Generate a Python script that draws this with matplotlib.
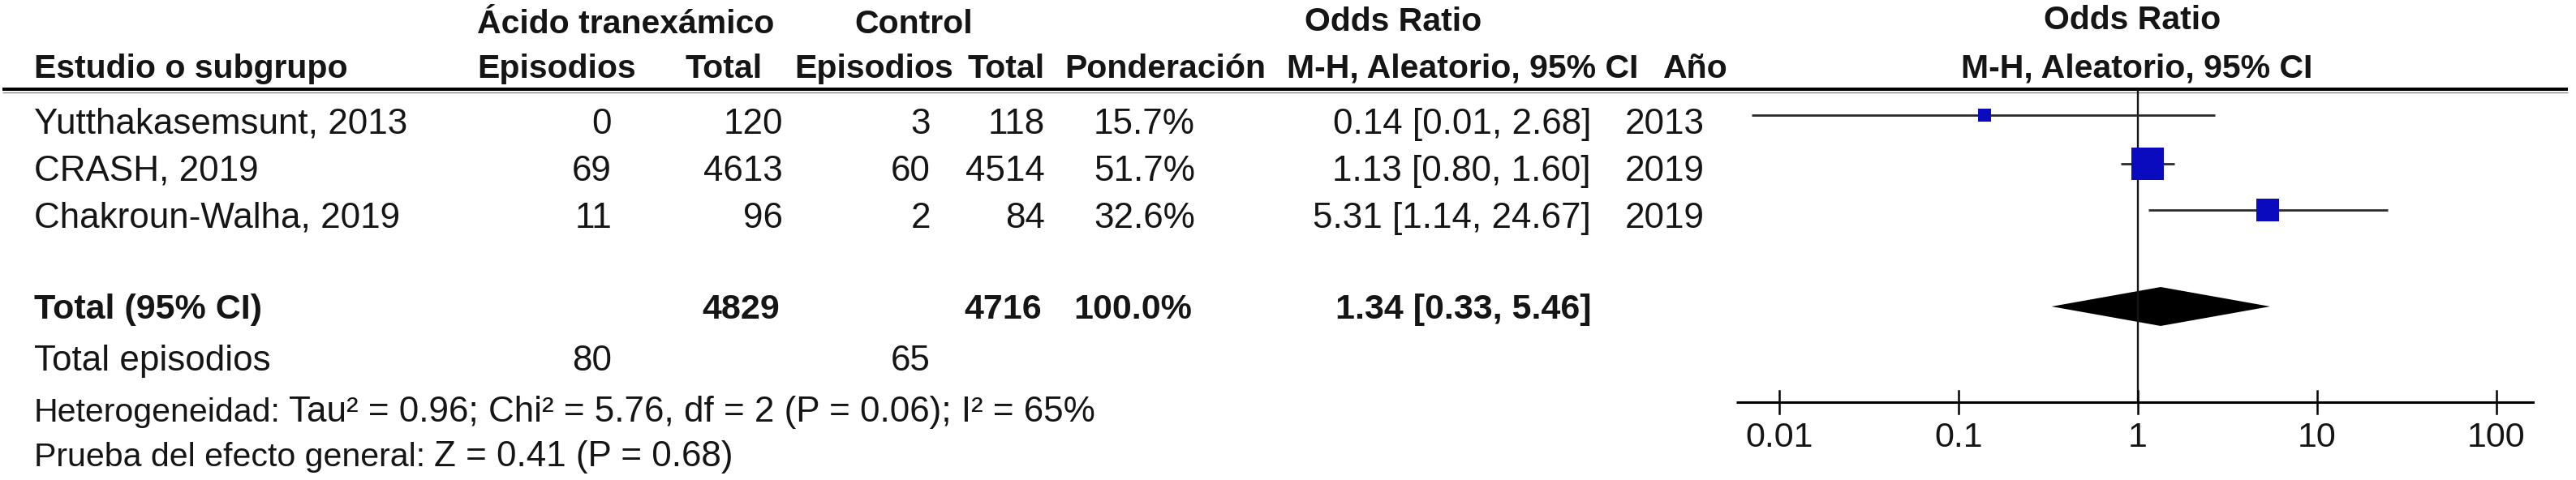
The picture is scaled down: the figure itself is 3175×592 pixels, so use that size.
import matplotlib
matplotlib.use("Agg")
import matplotlib.pyplot as plt

plt.rcParams['font.family'] = ['Liberation Sans', 'DejaVu Sans']

# -----------------
# Data
# -----------------
studies = ["Yutthakasemsunt, 2013", "CRASH, 2019", "Chakroun-Walha, 2019"]
txa_events = [0, 69, 11]
txa_total = [120, 4613, 96]
ctrl_events = [3, 60, 2]
ctrl_total = [118, 4514, 84]
weights = [15.7, 51.7, 32.6]
odds = [0.14, 1.13, 5.31]
ci_low = [0.007, 0.80, 1.14]
ci_high = [2.68, 1.60, 24.67]
years = [2013, 2019, 2019]

pooled_or = 1.34
pooled_low = 0.33
pooled_high = 5.46
heterogeneity = "Tau² = 0.96; Chi² = 5.76, df = 2 (P = 0.06); I² = 65%"
overall_test = "Z = 0.41 (P = 0.68)"

tick_values = [0.01, 0.1, 1, 10, 100]
tick_labels = ["0.01", "0.1", "1", "10", "100"]

# -----------------
# Layout (pixels, figure is 3175 x 592 at dpi 100)
# -----------------
W, H = 3175, 592
row_base = [165, 223, 281]      # text baselines
row_mark = [142, 202, 259]      # centre of CI lines / squares
total_base, total_mark = 393, 378
events_base = 457
het_base, test_base = 520, 575
axis_y = 496

col_txa_ev, col_txa_tot = 754, 965
col_ctl_ev, col_ctl_tot = 1147, 1288
col_weight, col_or, col_year = 1473, 1961, 2003

ink = '#151515'
reg = 31.7
hdr = 29.5
bld = 31

fig = plt.figure(figsize=(W / 100, H / 100), dpi=100)
ax = fig.add_axes([0, 0, 1, 1])
ax.set_xlim(0, W)
ax.set_ylim(H, 0)
ax.axis('off')

# -----------------
# Header
# -----------------
ax.text(588, 41, "Ácido tranexámico", fontsize=hdr, fontweight='bold', color=ink)
ax.text(1126, 41, "Control", fontsize=hdr, fontweight='bold', color=ink, ha='center')
ax.text(1717, 38, "Odds Ratio", fontsize=hdr, fontweight='bold', color=ink, ha='center')
ax.text(2628, 36, "Odds Ratio", fontsize=hdr, fontweight='bold', color=ink, ha='center')

ax.text(42, 96, "Estudio o subgrupo", fontsize=hdr, fontweight='bold', color=ink)
ax.text(588, 96, "Episodios", fontsize=hdr, fontweight='bold', color=ink)
ax.text(940, 96, "Total", fontsize=hdr, fontweight='bold', color=ink, ha='right')
ax.text(1175, 96, "Episodios", fontsize=hdr, fontweight='bold', color=ink, ha='right')
ax.text(1288, 96, "Total", fontsize=hdr, fontweight='bold', color=ink, ha='right')
ax.text(1312, 96, "Ponderación", fontsize=hdr, fontweight='bold', color=ink)
ax.text(1586, 96, "M-H, Aleatorio, 95% CI", fontsize=hdr, fontweight='bold', color=ink)
ax.text(2050, 96, "Año", fontsize=hdr, fontweight='bold', color=ink)
ax.text(2634, 96, "M-H, Aleatorio, 95% CI", fontsize=hdr, fontweight='bold', color=ink, ha='center')

ax.plot([3, 3165], [110, 110], color='black', lw=2.9, solid_capstyle='butt')
ax.plot([3, 3165], [114, 114], color='#8a8a8a', lw=1.0, solid_capstyle='butt')

# -----------------
# Study rows
# -----------------
for i, name in enumerate(studies):
    y = row_base[i]
    ax.text(42, y, name, fontsize=reg, color=ink)
    ax.text(col_txa_ev, y, str(txa_events[i]), fontsize=reg, color=ink, ha='right')
    ax.text(col_txa_tot, y, str(txa_total[i]), fontsize=reg, color=ink, ha='right')
    ax.text(col_ctl_ev, y, str(ctrl_events[i]), fontsize=reg, color=ink, ha='right')
    ax.text(col_ctl_tot, y, str(ctrl_total[i]), fontsize=reg, color=ink, ha='right')
    ax.text(col_weight, y, f"{weights[i]:.1f}%", fontsize=reg, color=ink, ha='right')
    ax.text(col_or, y, f"{odds[i]:.2f} [{ci_low[i]:.2f}, {ci_high[i]:.2f}]",
            fontsize=reg, color=ink, ha='right')
    ax.text(col_year, y, str(years[i]), fontsize=reg, color=ink)

# Totals
ax.text(42, total_base, "Total (95% CI)", fontsize=bld, fontweight='bold', color=ink)
ax.text(col_txa_tot - 4, total_base, str(sum(txa_total)), fontsize=bld, fontweight='bold', color=ink, ha='right')
ax.text(col_ctl_tot - 4, total_base, str(sum(ctrl_total)), fontsize=bld, fontweight='bold', color=ink, ha='right')
ax.text(col_weight - 4, total_base, f"{sum(weights):.1f}%", fontsize=bld, fontweight='bold', color=ink, ha='right')
ax.text(col_or, total_base, f"{pooled_or:.2f} [{pooled_low:.2f}, {pooled_high:.2f}]",
        fontsize=bld, fontweight='bold', color=ink, ha='right')

ax.text(42, events_base, "Total episodios", fontsize=reg, color=ink)
ax.text(col_txa_ev, events_base, str(sum(txa_events)), fontsize=reg, color=ink, ha='right')
ax.text(col_ctl_ev, events_base, str(sum(ctrl_events)), fontsize=reg, color=ink, ha='right')

# footnotes: label in a slightly smaller face, values right after it
ax.text(42, het_base, "Heterogeneidad:", fontsize=29.6, color=ink)
ax.text(356, het_base, heterogeneity, fontsize=reg, color=ink)
ax.text(42, test_base, "Prueba del efecto general:", fontsize=29.6, color=ink)
ax.text(535, test_base, overall_test, fontsize=reg, color=ink)

# -----------------
# Forest panel (log scale)
# -----------------
x0, x1 = 2140, 3124
fx = fig.add_axes([x0 / W, 0, (x1 - x0) / W, 1])
fx.set_xscale('log')
fx.set_xlim(10 ** ((x0 - 2635) / 221), 10 ** ((x1 - 2635) / 221))
fx.set_ylim(H, 0)
fx.axis('off')

# line of no effect
fx.plot([1, 1], [112, axis_y], color=ink, lw=1.7)

for i in range(len(studies)):
    y = row_mark[i]
    fx.plot([ci_low[i], ci_high[i]], [y, y], color='#2a2a2a', lw=2.0, solid_capstyle='butt')
    side = (6 + 34 * weights[i] / max(weights)) * 0.72
    fx.plot([odds[i]], [y], marker='s', markersize=side, color='#0a0abf',
            markeredgewidth=0, linestyle='none')

# pooled diamond
fx.fill([pooled_low, pooled_or, pooled_high, pooled_or],
        [total_mark, total_mark - 24, total_mark, total_mark + 24],
        color='black', lw=0)

# x axis drawn RevMan style
lo, hi = fx.get_xlim()
fx.plot([lo, hi], [axis_y, axis_y], color='black', lw=2.2, solid_capstyle='butt')
for v, lab in zip(tick_values, tick_labels):
    fx.plot([v, v], [482, 510], color='black', lw=1.8)
    fx.text(v, 551, lab, fontsize=31, color=ink, ha='center')

fig.savefig("out.png", dpi=100)
